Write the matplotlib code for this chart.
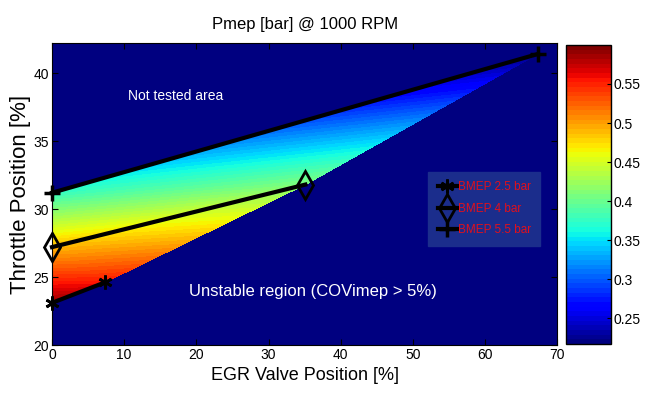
import matplotlib
matplotlib.use("Agg")
import matplotlib.pyplot as plt
import matplotlib.tri as mtri
import numpy as np

# measured points, one list per BMEP line
egr_25 = [0.0, 7.3]
thr_25 = [23.1, 24.6]
pmep_25 = [0.59, 0.555]

egr_40 = [0.0, 35.1]
thr_40 = [27.2, 31.8]
pmep_40 = [0.49, 0.41]

egr_55 = [0.0, 67.3]
thr_55 = [31.2, 41.4]
pmep_55 = [0.375, 0.22]

x_ticks = [0, 10, 20, 30, 40, 50, 60, 70]
y_ticks = [20, 25, 30, 35, 40]
cb_ticks = [0.25, 0.3, 0.35, 0.4, 0.45, 0.5, 0.55]

plt.rcParams["font.family"] = ["Liberation Sans", "DejaVu Sans"]

cmap = plt.get_cmap("jet", 64)
vmin, vmax = 0.217, 0.6

fig = plt.figure(figsize=(6.46, 3.93), dpi=100)
ax = fig.add_axes([0.0805, 0.1221, 0.782, 0.768])
cax = fig.add_axes([0.876, 0.1247, 0.0697, 0.761])
ax.set_facecolor(cmap(0))

# interpolated map between the tested points
px = [egr_25[0], egr_25[1], egr_40[0], egr_40[1], egr_55[0], egr_55[1]]
py = [thr_25[0], thr_25[1], thr_40[0], thr_40[1], thr_55[0], thr_55[1]]
pz = [pmep_25[0], pmep_25[1], pmep_40[0], pmep_40[1], pmep_55[0], pmep_55[1]]
tri = mtri.Triangulation(px, py, [[0, 1, 2], [1, 3, 2], [2, 3, 4], [4, 3, 5]])
levels = np.linspace(vmin, vmax, 65)
ax.tricontourf(tri, pz, levels=levels, cmap=cmap, vmin=vmin, vmax=vmax)

ax.plot(egr_25, thr_25, color="black", lw=3, marker=(6, 2, 0), ms=10, mew=2,
        label="BMEP 2.5 bar", clip_on=False)
ax.plot(egr_40, thr_40, color="black", lw=3, marker="d", ms=14, mew=2, mfc="none",
        label="BMEP 4 bar", clip_on=False)
ax.plot(egr_55, thr_55, color="black", lw=3, marker="+", ms=12, mew=2.5,
        label="BMEP 5.5 bar", clip_on=False)

ax.text(17.1, 38.3, "Not tested area", color="white", fontsize=10, ha="center", va="center")
ax.text(36.2, 23.9, "Unstable region (COVimep > 5%)", color="white", fontsize=12,
        ha="center", va="center")

ax.set_xlim(0, 70)
ax.set_ylim(20, 42.2)
ax.set_xticks(x_ticks)
ax.set_yticks(y_ticks)
ax.tick_params(direction="in", top=True, right=True, labelsize=10, length=4, pad=2)
ax.set_xlabel("EGR Valve Position [%]", fontsize=13, labelpad=4)
ax.set_ylabel("Throttle Position [%]", fontsize=16)
ax.yaxis.set_label_coords(-0.042, 0.5)
ax.set_title("Pmep [bar] @ 1000 RPM", fontsize=12, pad=10)

leg = ax.legend(loc="upper left", bbox_to_anchor=(0.752, 0.562), fontsize=8.5,
                frameon=True, handlelength=1.6, handletextpad=0.1,
                labelspacing=0.8, borderpad=0.5, borderaxespad=0)
leg.get_frame().set_facecolor("#1b2d8c")
leg.get_frame().set_edgecolor("#1b2d8c")
leg.get_frame().set_alpha(1)
leg.get_frame().set_boxstyle("square")
for t in leg.get_texts():
    t.set_color("#e0101c")

sm = plt.cm.ScalarMappable(cmap=cmap, norm=plt.Normalize(vmin, vmax))
cb = fig.colorbar(sm, cax=cax, ticks=cb_ticks)
cb.ax.tick_params(direction="in", labelsize=10, length=3, pad=2)
cb.ax.set_yticklabels([f"{v:g}" for v in cb_ticks])
cb.outline.set_linewidth(1)

fig.savefig("out.png", dpi=100)
